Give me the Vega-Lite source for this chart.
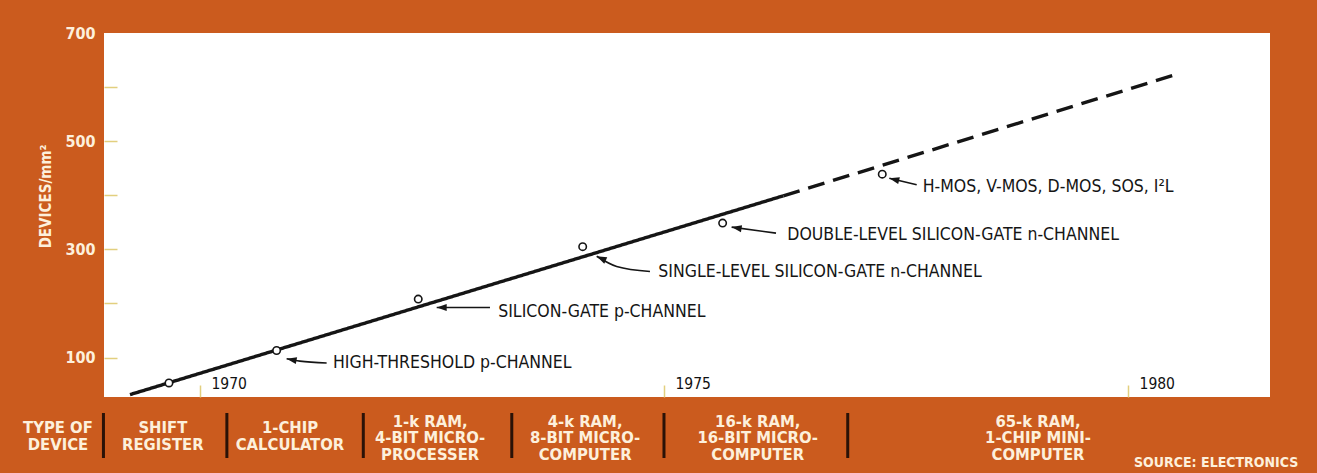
{
  "$schema": "https://vega.github.io/schema/vega-lite/v6.json",
  "autosize": {"type": "none"},
  "padding": {"left": 104, "top": 33, "right": 47, "bottom": 76},
  "background": "#CB5B1E",
  "width": 1166,
  "height": 364,
  "view": {"fill": "#FFFFFF", "stroke": null},
  "config": {"font": "DejaVu Sans Condensed, Roboto, sans-serif"},
  "resolve": {"scale": {"y": "independent"}},
  "datasets": {
    "trend": [
      {"year": 1969.246, "density": 31.4, "segment": "measured"},
      {"year": 1976.286, "density": 399, "segment": "measured"},
      {"year": 1976.286, "density": 399, "segment": "projected"},
      {"year": 1980.525, "density": 623.7, "segment": "projected"}
    ],
    "devices": [
      {"tech": "shift", "year": 1969.666, "density": 53},
      {"tech": "ht", "year": 1970.826, "density": 113, "note": "HIGH-THRESHOLD p-CHANNEL", "note_year": 1971.433, "note_density": 90.5},
      {"tech": "sgp", "year": 1972.352, "density": 208, "note": "SILICON-GATE p-CHANNEL", "note_year": 1973.214, "note_density": 185},
      {"tech": "sl", "year": 1974.124, "density": 305, "note": "SINGLE-LEVEL SILICON-GATE n-CHANNEL", "note_year": 1974.939, "note_density": 257.3},
      {"tech": "dl", "year": 1975.632, "density": 348.5, "note": "DOUBLE-LEVEL SILICON-GATE n-CHANNEL", "note_year": 1976.329, "note_density": 325.6},
      {"tech": "hmos", "year": 1977.352, "density": 439, "note": "H-MOS, V-MOS, D-MOS, SOS, I²L", "note_year": 1977.788, "note_density": 416}
    ],
    "arrows": [
      {"tech": "ht", "order": 1, "year": 1970.934, "density": 97.9},
      {"tech": "ht", "order": 2, "year": 1971.077, "density": 93.3},
      {"tech": "ht", "order": 3, "year": 1971.365, "density": 90},
      {"tech": "sgp", "order": 1, "year": 1972.551, "density": 192.6},
      {"tech": "sgp", "order": 2, "year": 1973.125, "density": 192.6},
      {"tech": "sl", "order": 1, "year": 1974.275, "density": 287.2},
      {"tech": "sl", "order": 2, "year": 1974.49, "density": 268.3},
      {"tech": "sl", "order": 3, "year": 1974.849, "density": 259.1},
      {"tech": "dl", "order": 1, "year": 1975.729, "density": 341.1},
      {"tech": "dl", "order": 2, "year": 1976.207, "density": 330},
      {"tech": "hmos", "order": 1, "year": 1977.428, "density": 431.6},
      {"tech": "hmos", "order": 2, "year": 1977.723, "density": 419.3}
    ],
    "boundaries": [
      {"boundary": 1968.96}, {"boundary": 1970.29}, {"boundary": 1971.76},
      {"boundary": 1973.36}, {"boundary": 1975.0}, {"boundary": 1976.98}
    ],
    "categories": [
      {"device": "TYPE OF\nDEVICE", "year": 1968.47},
      {"device": "SHIFT\nREGISTER", "year": 1969.6},
      {"device": "1-CHIP\nCALCULATOR", "year": 1970.97},
      {"device": "1-k RAM,\n4-BIT MICRO-\nPROCESSER", "year": 1972.48},
      {"device": "4-k RAM,\n8-BIT MICRO-\nCOMPUTER", "year": 1974.15},
      {"device": "16-k RAM,\n16-BIT MICRO-\nCOMPUTER", "year": 1976.01},
      {"device": "65-k RAM,\n1-CHIP MINI-\nCOMPUTER", "year": 1979.03}
    ],
    "source": [{"text": "SOURCE:  ELECTRONICS", "year": 1980.95}]
  },
  "layer": [
    {
      "data": {"name": "trend"},
      "mark": {"type": "line", "strokeWidth": 3.4, "color": "#151515", "strokeCap": "butt"},
      "encoding": {
        "x": {
          "field": "year", "type": "quantitative",
          "scale": {"domain": [1968.966, 1981.53], "nice": false, "zero": false},
          "axis": {
            "values": [1970, 1975, 1980], "format": "d", "title": null,
            "domain": false, "grid": false,
            "tickSize": -12, "tickColor": "#E2CF7E", "tickWidth": 1.5,
            "labelColor": "#111111", "labelFontSize": 15.5,
            "labelAlign": "left", "labelBaseline": "middle",
            "labelOffset": 11, "labelPadding": -2,
            "labelFlush": false, "labelOverlap": false
          }
        },
        "y": {
          "field": "density", "type": "quantitative",
          "scale": {"domain": [27, 700], "nice": false, "zero": false},
          "axis": {
            "values": [100, 200, 300, 400, 500, 600, 700],
            "labelExpr": "datum.value % 200 == 100 ? datum.label : ''",
            "title": "DEVICES/mm²",
            "domain": false, "grid": false,
            "tickSize": -13, "tickWidth": 1.5,
            "tickColor": {"condition": {"test": "datum.value == 700", "value": "transparent"}, "value": "#E2CF7E"},
            "labelColor": "#FDF0DC", "labelFontSize": 16, "labelFontWeight": "bold",
            "labelPadding": 22, "labelOverlap": false,
            "titleColor": "#FDF0DC", "titleFontSize": 15, "titleFontWeight": "bold",
            "titleX": -59, "titleY": 163, "titleAngle": 270,
            "titleBaseline": "middle", "titleAlign": "center"
          }
        },
        "strokeDash": {
          "field": "segment", "type": "nominal",
          "scale": {"domain": ["measured", "projected"], "range": [[1, 0], [17, 9]]},
          "legend": null
        }
      }
    },
    {
      "data": {"name": "arrows"},
      "mark": {"type": "line", "strokeWidth": 1.6, "color": "#151515", "interpolate": "monotone"},
      "encoding": {
        "x": {"field": "year", "type": "quantitative"},
        "y": {"field": "density", "type": "quantitative", "scale": {"domain": [27, 700], "nice": false, "zero": false}, "axis": null},
        "detail": {"field": "tech"},
        "order": {"field": "order", "type": "quantitative"}
      }
    },
    {
      "data": {"name": "arrows"},
      "transform": [{"filter": "datum.order == 1 && datum.tech == 'ht'"}],
      "mark": {"type": "point", "shape": "M0,0L2,-0.7L2,0.7Z", "filled": true, "color": "#151515", "size": 100, "angle": 11, "opacity": 1},
      "encoding": {"x": {"field": "year", "type": "quantitative"}, "y": {"field": "density", "type": "quantitative", "scale": {"domain": [27, 700], "nice": false, "zero": false}, "axis": null}}
    },
    {
      "data": {"name": "arrows"},
      "transform": [{"filter": "datum.order == 1 && datum.tech == 'sgp'"}],
      "mark": {"type": "point", "shape": "M0,0L2,-0.7L2,0.7Z", "filled": true, "color": "#151515", "size": 100, "angle": 0, "opacity": 1},
      "encoding": {"x": {"field": "year", "type": "quantitative"}, "y": {"field": "density", "type": "quantitative", "scale": {"domain": [27, 700], "nice": false, "zero": false}, "axis": null}}
    },
    {
      "data": {"name": "arrows"},
      "transform": [{"filter": "datum.order == 1 && datum.tech == 'sl'"}],
      "mark": {"type": "point", "shape": "M0,0L2,-0.7L2,0.7Z", "filled": true, "color": "#151515", "size": 100, "angle": 25, "opacity": 1},
      "encoding": {"x": {"field": "year", "type": "quantitative"}, "y": {"field": "density", "type": "quantitative", "scale": {"domain": [27, 700], "nice": false, "zero": false}, "axis": null}}
    },
    {
      "data": {"name": "arrows"},
      "transform": [{"filter": "datum.order == 1 && datum.tech == 'dl'"}],
      "mark": {"type": "point", "shape": "M0,0L2,-0.7L2,0.7Z", "filled": true, "color": "#151515", "size": 100, "angle": 9, "opacity": 1},
      "encoding": {"x": {"field": "year", "type": "quantitative"}, "y": {"field": "density", "type": "quantitative", "scale": {"domain": [27, 700], "nice": false, "zero": false}, "axis": null}}
    },
    {
      "data": {"name": "arrows"},
      "transform": [{"filter": "datum.order == 1 && datum.tech == 'hmos'"}],
      "mark": {"type": "point", "shape": "M0,0L2,-0.7L2,0.7Z", "filled": true, "color": "#151515", "size": 100, "angle": 14, "opacity": 1},
      "encoding": {"x": {"field": "year", "type": "quantitative"}, "y": {"field": "density", "type": "quantitative", "scale": {"domain": [27, 700], "nice": false, "zero": false}, "axis": null}}
    },
    {
      "data": {"name": "devices"},
      "mark": {"type": "point", "shape": "circle", "filled": true, "fill": "#FFFFFF", "stroke": "#151515", "strokeWidth": 1.6, "size": 55, "opacity": 1},
      "encoding": {"x": {"field": "year", "type": "quantitative"}, "y": {"field": "density", "type": "quantitative", "scale": {"domain": [27, 700], "nice": false, "zero": false}, "axis": null}}
    },
    {
      "data": {"name": "devices"},
      "transform": [{"filter": "datum.note != null"}],
      "mark": {"type": "text", "align": "left", "baseline": "middle", "fontSize": 17.5, "color": "#151515"},
      "encoding": {
        "x": {"field": "note_year", "type": "quantitative"},
        "y": {"field": "note_density", "type": "quantitative", "scale": {"domain": [27, 700], "nice": false, "zero": false}, "axis": null},
        "text": {"field": "note"}
      }
    },
    {
      "data": {"name": "boundaries"},
      "mark": {"type": "rule", "color": "#2A1207", "strokeWidth": 3},
      "encoding": {
        "x": {"field": "boundary", "type": "quantitative"},
        "y": {"datum": 60, "type": "quantitative", "scale": {"domain": [0, 76], "range": [440, 364], "nice": false, "zero": false}, "axis": null},
        "y2": {"datum": 15}
      }
    },
    {
      "data": {"name": "categories"},
      "transform": [{"filter": "length(split(datum.device, '\\n')) == 2"}],
      "mark": {"type": "text", "lineBreak": "\n", "align": "center", "baseline": "middle", "fontSize": 16.5, "fontWeight": "bold", "lineHeight": 17, "color": "#FDF0DC"},
      "encoding": {
        "x": {"field": "year", "type": "quantitative"},
        "y": {"datum": 45, "type": "quantitative", "scale": {"domain": [0, 76], "range": [440, 364], "nice": false, "zero": false}, "axis": null},
        "text": {"field": "device"}
      }
    },
    {
      "data": {"name": "categories"},
      "transform": [{"filter": "length(split(datum.device, '\\n')) == 3"}],
      "mark": {"type": "text", "lineBreak": "\n", "align": "center", "baseline": "middle", "fontSize": 16.5, "fontWeight": "bold", "lineHeight": 16.7, "color": "#FDF0DC"},
      "encoding": {
        "x": {"field": "year", "type": "quantitative"},
        "y": {"datum": 51.3, "type": "quantitative", "scale": {"domain": [0, 76], "range": [440, 364], "nice": false, "zero": false}, "axis": null},
        "text": {"field": "device"}
      }
    },
    {
      "data": {"name": "source"},
      "mark": {"type": "text", "align": "center", "baseline": "middle", "fontSize": 14, "fontWeight": "bold", "color": "#FDF0DC"},
      "encoding": {
        "x": {"field": "year", "type": "quantitative"},
        "y": {"datum": 10, "type": "quantitative", "scale": {"domain": [0, 76], "range": [440, 364], "nice": false, "zero": false}, "axis": null},
        "text": {"field": "text"}
      }
    }
  ]
}
